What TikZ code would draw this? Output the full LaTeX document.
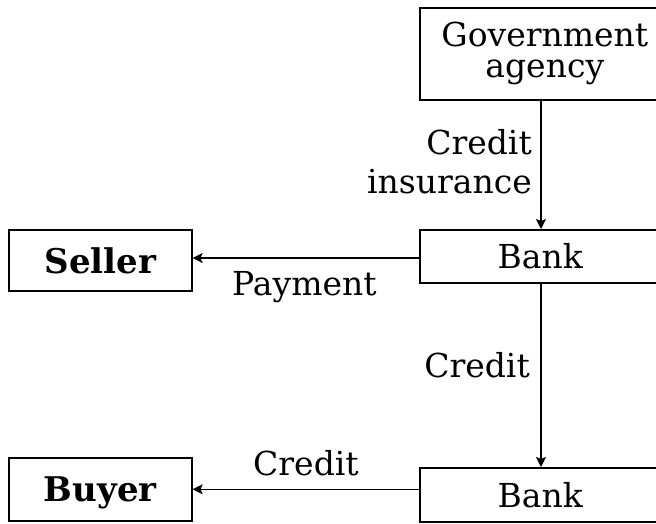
\documentclass[tikz,border=0pt]{standalone}
\usepackage{fontspec}
\setmainfont{DejaVu Serif}
\usetikzlibrary{arrows.meta}
\begin{document}
\begin{tikzpicture}[x=1pt,y=-1pt,
  box/.style={draw=black, line width=1.6pt, inner sep=0pt, anchor=north west,
    font=\fontsize{33}{31}\selectfont, align=center},
  boldbox/.style={box, font=\fontsize{34}{40}\selectfont\bfseries, text depth=0pt},
  lbl/.style={inner sep=0pt, font=\fontsize{33}{39}\selectfont},
  arr/.style={line width=1.4pt, -{Stealth[length=10pt,width=10pt,inset=2pt]}}]
\useasboundingbox (0,0) rectangle (656,523);
\clip (0,0) rectangle (656,523);
\fill[white] (0,0) rectangle (656,523);
\node[box, minimum width=250pt, minimum height=92pt] (gov) at (419,7) {Government\\agency};
\node[box, minimum width=241pt, minimum height=53pt, text depth=0pt] (bank1) at (419,229) {Bank};
\node[box, minimum width=241pt, minimum height=54pt, text depth=0pt] (bank2) at (419,467) {Bank};
\node[boldbox, minimum width=183pt, minimum height=61pt] (seller) at (8,229) {Seller};
\node[boldbox, minimum width=183pt, minimum height=63pt] (buyer) at (8,457) {Buyer};
\coordinate (vx) at (541,0);
\coordinate (hy) at (0,258);
\draw[arr] (vx |- gov.south) -- (vx |- bank1.north);
\draw[arr] (bank1.west |- hy) -- (seller.east |- hy);
\draw[arr] (vx |- bank1.south) -- (vx |- bank2.north);
\draw[arr] (bank2.west |- buyer.east) -- (buyer.east);
\node[lbl, align=right, anchor=east] (lins) at (532,162) {Credit\\insurance};
\node[lbl, anchor=base west] (lpay) at (232,295) {Payment};
\node[lbl, anchor=base east] (lcred1) at (530,377) {Credit};
\node[lbl, anchor=base west] (lcred2) at (253,475) {Credit};
\end{tikzpicture}
\end{document}
